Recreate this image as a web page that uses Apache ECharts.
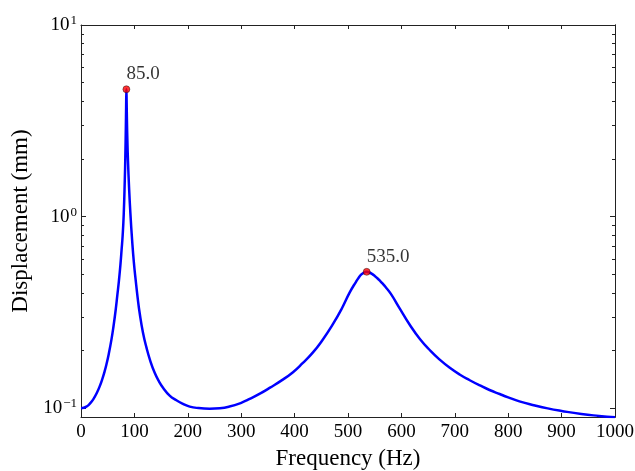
<!DOCTYPE html>
<html>
<head>
<meta charset="utf-8">
<script src="https://cdn.jsdelivr.net/npm/echarts@6/dist/echarts.min.js"></script>
<style>
  html, body { margin: 0; padding: 0; background: #fff; }
  #chart { width: 635px; height: 471px; }
</style>
</head>
<body>
<div id="chart"></div>
<script>
// frequency response
const freq = [0, 5, 10, 15, 20, 25, 30, 35, 40, 44, 47.6, 52, 57, 61, 65, 68, 71, 74, 76, 78, 80,
  82, 83, 84, 84.5, 85, 85.5, 86, 87, 88, 90, 92.5, 96, 99, 102.4, 106, 110, 116, 122.5, 130, 138,
  146, 153.6, 166, 178.6, 190, 203.6, 220, 241, 260, 278, 300, 316, 335, 354, 375, 397, 415, 434,
  452, 472, 488, 503, 515, 520, 525, 530, 535, 540, 545, 550, 555, 560, 565, 570, 580, 597, 615,
  635, 655, 672, 690, 709, 728, 747, 765, 784, 800, 821, 850, 874, 900, 937, 970, 1000];
const disp = [0.100, 0.1005, 0.1019, 0.1045, 0.1084, 0.1138, 0.1208, 0.130, 0.1422, 0.1548, 0.1692,
  0.192, 0.228, 0.2693, 0.3268, 0.3883, 0.462, 0.568, 0.67, 0.797, 1.026,
  1.553, 2.05, 2.96, 3.72, 4.62, 3.9, 3.2, 2.4, 1.95, 1.42, 1.04, 0.735, 0.577, 0.466, 0.379, 0.312,
  0.2485, 0.2077, 0.1758, 0.153, 0.138, 0.128, 0.1164, 0.110, 0.1057, 0.102, 0.1002, 0.0995,
  0.100, 0.102, 0.1067, 0.1118, 0.1191, 0.128, 0.1393, 0.1542, 0.1718, 0.195, 0.2265, 0.2754,
  0.3296, 0.401, 0.457, 0.480, 0.499, 0.5105, 0.515, 0.511, 0.5023, 0.4903, 0.477, 0.4624, 0.4467,
  0.4305, 0.3963, 0.3311, 0.2742, 0.229, 0.1986, 0.179, 0.163, 0.150, 0.140, 0.1315, 0.1245,
  0.1186, 0.114, 0.1086, 0.1034, 0.0998, 0.0968, 0.0933, 0.0912, 0.0897];

const peakFreq = [85, 535];
const peakDisp = [4.62, 0.515];

const yMajor = [0.1, 1, 10];
const yMinor = [0.2, 0.3, 0.4, 0.5, 0.6, 0.7, 0.8, 0.9, 2, 3, 4, 5, 6, 7, 8, 9];

const serif = '"Liberation Serif", "DejaVu Serif", serif';
const axisColor = '#222';

function supLabel(v) {
  const e = Math.round(Math.log10(v));
  return '{b|10}{s|' + (e < 0 ? '\u2212' + (-e) : e) + '}';
}

function yAxisDef(pos, values, len, withLabels) {
  return {
    type: 'log',
    logBase: 10,
    position: pos,
    min: 0.09,
    max: 10,
    axisLine: { show: withLabels || pos === 'right', lineStyle: { color: axisColor, width: 1 } },
    axisTick: { show: true, inside: true, length: len, customValues: values, lineStyle: { color: axisColor } },
    axisLabel: withLabels ? {
      customValues: values,
      margin: 4,
      formatter: supLabel,
      rich: {
        b: { fontFamily: serif, fontSize: 19, color: '#000', lineHeight: 22 },
        s: { fontFamily: serif, fontSize: 13, color: '#000', verticalAlign: 'top', lineHeight: 22, padding: [0, 0, 12, 1] }
      }
    } : { show: false },
    splitLine: { show: false },
    name: withLabels ? 'Displacement (mm)' : '',
    nameLocation: 'middle',
    nameGap: 40,
    nameTextStyle: { fontFamily: serif, fontSize: 23, color: '#000' }
  };
}

const chart = echarts.init(document.getElementById('chart'));
chart.setOption({
  backgroundColor: '#fff',
  animation: false,
  grid: { left: 81, right: 20, top: 25, bottom: 54, containLabel: false, outerBoundsMode: 'none' },
  xAxis: [
    {
      type: 'value',
      min: 0,
      max: 1000,
      interval: 100,
      axisLine: { lineStyle: { color: axisColor, width: 1 } },
      axisTick: { inside: true, length: 4, lineStyle: { color: axisColor } },
      axisLabel: { margin: 6, fontFamily: serif, fontSize: 19, color: '#000', formatter: v => String(v) },
      splitLine: { show: false },
      name: 'Frequency (Hz)',
      nameLocation: 'middle',
      nameGap: 30,
      nameTextStyle: { fontFamily: serif, fontSize: 23, color: '#000' }
    },
    {
      type: 'value',
      position: 'top',
      min: 0,
      max: 1000,
      interval: 100,
      axisLine: { lineStyle: { color: axisColor, width: 1 } },
      axisTick: { inside: true, length: 4, lineStyle: { color: axisColor } },
      axisLabel: { show: false },
      splitLine: { show: false }
    }
  ],
  yAxis: [
    yAxisDef('left', yMajor, 5, true),
    yAxisDef('left', yMinor, 3, false),
    yAxisDef('right', yMajor, 5, false),
    yAxisDef('right', yMinor, 3, false)
  ],
  series: [
    {
      type: 'line',
      data: freq.map((f, i) => [f, disp[i]]),
      showSymbol: false,
      smooth: 0.5,
      lineStyle: { color: '#0000ff', width: 2.5 },
      z: 2
    },
    {
      type: 'scatter',
      data: peakFreq.map((f, i) => [f, peakDisp[i]]),
      symbol: 'circle',
      symbolSize: 7,
      itemStyle: { color: '#ff0000', borderColor: '#000', borderWidth: 0.5 },
      label: {
        show: true,
        position: 'top',
        align: 'left',
        distance: 2,
        formatter: p => p.value[0].toFixed(1),
        fontFamily: serif,
        fontSize: 19,
        color: '#000'
      },
      z: 3
    }
  ]
});
</script>
</body>
</html>
